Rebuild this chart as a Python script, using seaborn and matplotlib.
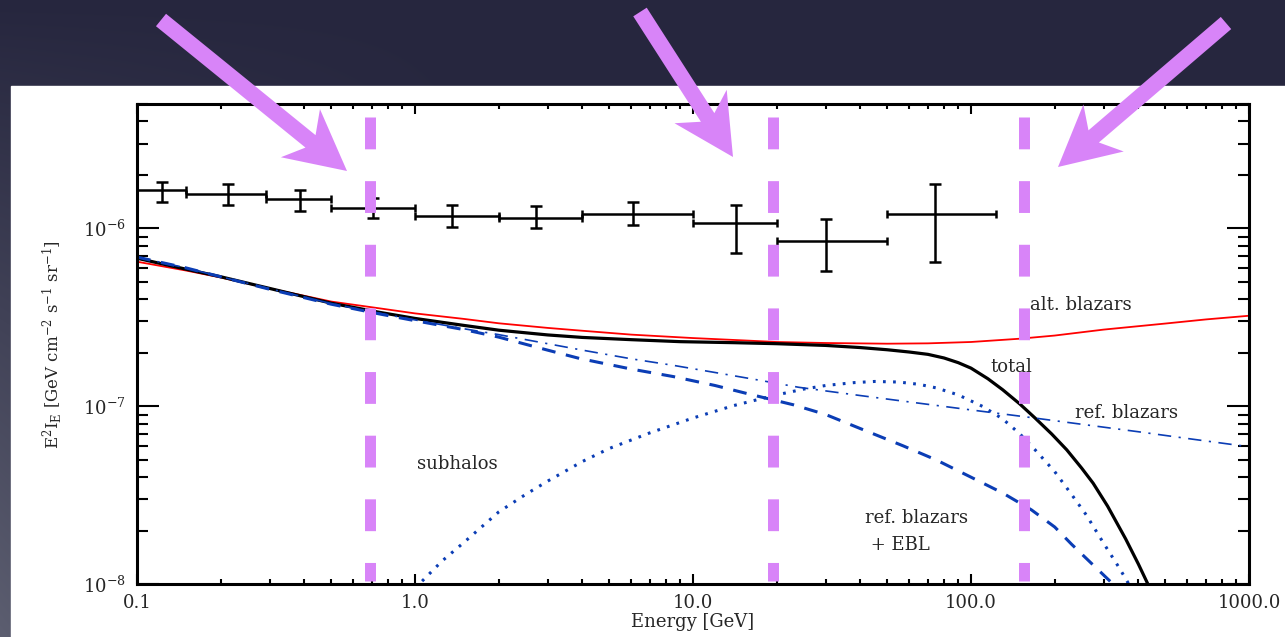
import numpy as np
import seaborn as sns
import matplotlib.pyplot as plt
from matplotlib.patches import Polygon, Rectangle
from matplotlib.ticker import NullFormatter, LogLocator

# measured EGB points (energy bins in GeV, E^2 I_E)
bin_lo = [0.1, 0.15, 0.29, 0.5, 1.0, 2.0, 4.0, 10.0, 20.0, 50.0]
bin_hi = [0.15, 0.29, 0.5, 1.0, 2.0, 4.0, 10.0, 20.0, 50.0, 123.0]
bin_mid = [0.123, 0.212, 0.386, 0.706, 1.36, 2.72, 6.07, 14.3, 30.0, 74.0]
flux = [1.64e-6, 1.57e-6, 1.46e-6, 1.31e-6, 1.18e-6, 1.15e-6, 1.21e-6, 1.07e-6, 8.5e-7, 1.2e-6]
flux_hi = [1.83e-6, 1.77e-6, 1.64e-6, 1.49e-6, 1.36e-6, 1.33e-6, 1.41e-6, 1.36e-6, 1.13e-6, 1.78e-6]
flux_lo = [1.41e-6, 1.36e-6, 1.26e-6, 1.14e-6, 1.02e-6, 1.0e-6, 1.04e-6, 7.24e-7, 5.78e-7, 6.49e-7]

# model curves
alt_e = [0.1, 0.15, 0.2, 0.3, 0.5, 0.75, 1.0, 1.5, 2.0, 3.0, 4.0, 6.0, 10.0, 15.0, 20.0,
         30.0, 50.0, 70.0, 100.0, 150.0, 200.0, 300.0, 500.0, 700.0, 1000.0]
alt_f = [6.5e-7, 5.8e-7, 5.3e-7, 4.6e-7, 3.88e-7, 3.55e-7, 3.33e-7, 3.1e-7, 2.93e-7, 2.76e-7,
         2.66e-7, 2.53e-7, 2.42e-7, 2.35e-7, 2.3e-7, 2.27e-7, 2.25e-7, 2.26e-7, 2.3e-7,
         2.4e-7, 2.5e-7, 2.7e-7, 2.92e-7, 3.08e-7, 3.23e-7]

tot_e = [0.1, 0.15, 0.2, 0.3, 0.5, 0.75, 1.0, 1.5, 2.0, 3.0, 4.0, 6.0, 9.0, 14.0, 20.0,
         30.0, 40.0, 50.0, 60.0, 70.0, 80.0, 90.0, 100.0, 115.0, 130.0, 150.0, 170.0, 195.0,
         221.0, 250.0, 275.0, 310.0, 360.0, 400.0, 440.0, 480.0]
tot_f = [6.8e-7, 5.9e-7, 5.35e-7, 4.6e-7, 3.8e-7, 3.37e-7, 3.12e-7, 2.85e-7, 2.68e-7, 2.52e-7,
         2.44e-7, 2.37e-7, 2.31e-7, 2.28e-7, 2.25e-7, 2.2e-7, 2.14e-7, 2.08e-7, 2.02e-7,
         1.96e-7, 1.87e-7, 1.76e-7, 1.64e-7, 1.43e-7, 1.24e-7, 1.03e-7, 8.6e-8, 7.0e-8,
         5.7e-8, 4.5e-8, 3.7e-8, 2.75e-8, 1.8e-8, 1.3e-8, 9.5e-9, 7.0e-9]

ebl_e = [0.1, 0.15, 0.2, 0.3, 0.5, 0.75, 1.0, 1.5, 2.0, 3.0, 3.9, 6.0, 8.5, 12.0, 16.0,
         23.0, 30.0, 40.0, 57.0, 75.0, 100.0, 130.0, 165.0, 200.0, 230.0, 270.0, 325.0, 380.0]
ebl_f = [6.9e-7, 6.0e-7, 5.35e-7, 4.55e-7, 3.75e-7, 3.3e-7, 3.03e-7, 2.7e-7, 2.45e-7, 2.07e-7,
         1.86e-7, 1.62e-7, 1.47e-7, 1.31e-7, 1.17e-7, 1.02e-7, 9.0e-8, 7.5e-8, 6.0e-8,
         5.0e-8, 4.0e-8, 3.26e-8, 2.62e-8, 2.1e-8, 1.68e-8, 1.32e-8, 1.0e-8, 7.5e-9]

ref_e = [0.1, 0.15, 0.2, 0.3, 0.5, 0.75, 1.0, 1.5, 2.0, 3.0, 4.0, 6.0, 8.5, 12.0, 17.0,
         24.0, 40.0, 57.0, 100.0, 160.0, 240.0, 400.0, 600.0, 1000.0]
ref_f = [6.9e-7, 6.0e-7, 5.35e-7, 4.58e-7, 3.78e-7, 3.33e-7, 3.06e-7, 2.73e-7, 2.53e-7,
         2.25e-7, 2.07e-7, 1.85e-7, 1.7e-7, 1.55e-7, 1.41e-7, 1.28e-7, 1.15e-7, 1.07e-7,
         9.55e-8, 8.7e-8, 8.0e-8, 7.2e-8, 6.6e-8, 5.93e-8]

sub_e = [1.0, 1.25, 1.5, 2.0, 2.5, 3.0, 4.0, 5.0, 7.0, 10.0, 14.0, 20.0, 25.0, 30.0, 38.0,
         45.0, 55.0, 65.0, 75.0, 90.0, 110.0, 130.0, 150.0, 170.0, 200.0, 230.0, 260.0,
         300.0, 340.0, 370.0, 420.0]
sub_f = [9.5e-9, 1.35e-8, 1.72e-8, 2.55e-8, 3.2e-8, 3.8e-8, 4.9e-8, 5.8e-8, 7.1e-8, 8.6e-8,
         1.01e-7, 1.16e-7, 1.25e-7, 1.31e-7, 1.36e-7, 1.38e-7, 1.37e-7, 1.33e-7, 1.27e-7,
         1.16e-7, 1.0e-7, 8.5e-8, 7.0e-8, 5.7e-8, 4.3e-8, 3.2e-8, 2.45e-8, 1.7e-8, 1.25e-8,
         1.0e-8, 7e-9]

# highlighted energies (purple dashed guides)
guide_e = [0.69, 19.4, 155.0]

xtick_vals = [0.1, 1.0, 10.0, 100.0, 1000.0]
xtick_labels = ['0.1', '1.0', '10.0', '100.0', '1000.0']
ytick_vals = [1e-8, 1e-7, 1e-6]
ytick_labels = [r'$10^{-8}$', r'$10^{-7}$', r'$10^{-6}$']

sns.set_style('ticks')
plt.rcParams['font.family'] = ['DejaVu Serif']
plt.rcParams['mathtext.fontset'] = 'dejavuserif'

purple = '#d884f8'
blue = '#0b3db5'

fig = plt.figure(figsize=(12.85, 6.37), dpi=100)

# slide background with white panel
bg = fig.add_axes([0, 0, 1, 1], zorder=0)
yy, xx = np.mgrid[0:637, 0:1285]
f = np.clip((yy / 637.0) * (1 - xx / 500.0), 0, 1)[..., None]
dark = np.array([38, 38, 62]) / 255.0
light = np.array([92, 94, 112]) / 255.0
bg.imshow(dark * (1 - f) + light * f, extent=[0, 1285, 637, 0], aspect='auto')
bg.add_patch(Rectangle((11, 86), 1285 - 11, 637 - 86, color='white'))
bg.set_xlim(0, 1285)
bg.set_ylim(637, 0)
bg.axis('off')

ax = fig.add_axes([0.10661, 0.0827, 0.86537, 0.7540], zorder=1)
ax.set_xscale('log')
ax.set_yscale('log')

sns.lineplot(x=alt_e, y=alt_f, ax=ax, color='#ff0000', linewidth=1.3)
sns.lineplot(x=tot_e, y=tot_f, ax=ax, color='black', linewidth=2.3)
sns.lineplot(x=ebl_e, y=ebl_f, ax=ax, color=blue, linewidth=2.2, linestyle=(0, (4.5, 3.5)))
sns.lineplot(x=ref_e, y=ref_f, ax=ax, color=blue, linewidth=1.2,
             linestyle=(0, (8, 4.5, 1.3, 4.5)))
sns.lineplot(x=sub_e, y=sub_f, ax=ax, color=blue, linewidth=2.2, linestyle=(0, (0.9, 2.4)))

mid = np.array(bin_mid)
fl = np.array(flux)
ax.errorbar(mid, fl, xerr=[mid - np.array(bin_lo), np.array(bin_hi) - mid], fmt='none',
            ecolor='black', elinewidth=1.8, capsize=2.9, capthick=1.8, zorder=4)
ax.errorbar(mid, fl, yerr=[fl - np.array(flux_lo), np.array(flux_hi) - fl], fmt='none',
            ecolor='black', elinewidth=1.8, capsize=4.3, capthick=1.8, zorder=4)

ax.vlines(guide_e, 4.22e-6, 1.04e-8, colors=purple, linewidth=7.9,
          linestyles=[(0, (2.9, 2.9))], zorder=6)

ax.text(163, 3.7e-7, 'alt. blazars', va='center', fontsize=13)
ax.text(117, 1.66e-7, 'total', va='center', fontsize=13)
ax.text(237, 9.16e-8, 'ref. blazars', va='center', fontsize=13)
ax.text(1.02, 4.74e-8, 'subhalos', va='center', fontsize=13)
ax.text(41.6, 2.36e-8, 'ref. blazars', va='center', fontsize=13)
ax.text(41.6, 1.66e-8, ' + EBL', va='center', fontsize=13)

ax.set_xlim(0.1, 1000)
ax.set_ylim(1e-8, 5e-6)
ax.set_xticks(xtick_vals)
ax.set_xticklabels(xtick_labels, fontsize=13)
ax.set_yticks(ytick_vals)
ax.set_yticklabels(ytick_labels, fontsize=13)
ax.xaxis.set_minor_locator(LogLocator(base=10, subs=np.arange(2, 10)))
ax.yaxis.set_minor_locator(LogLocator(base=10, subs=np.arange(2, 10)))
ax.xaxis.set_minor_formatter(NullFormatter())
ax.yaxis.set_minor_formatter(NullFormatter())
ax.tick_params(which='both', direction='in', top=True, right=True, width=1.5, color='black')
ax.tick_params(axis='y', which='major', length=15.8, pad=8)
ax.tick_params(axis='y', which='minor', length=8)
ax.tick_params(axis='x', which='major', length=7, pad=7)
ax.tick_params(axis='x', which='minor', length=3.5)
for sp in ax.spines.values():
    sp.set_linewidth(2.2)
    sp.set_color('black')
ax.set_xlabel('Energy [GeV]', fontsize=13, labelpad=1)
ax.set_ylabel(r'E$^2$I$_\mathrm{E}$ [GeV cm$^{-2}$ s$^{-1}$ sr$^{-1}$]', fontsize=12, labelpad=14)
ax.grid(False)

# big purple arrows on top of the slide
ov = fig.add_axes([0, 0, 1, 1], zorder=3)
ov.set_xlim(0, 1285)
ov.set_ylim(637, 0)
ov.axis('off')
ov.patch.set_alpha(0)

arrows = [((161, 20), (347, 171)), ((640, 12), (733, 157)), ((1226, 23), (1058, 167))]
for tail, tip in arrows:
    t = np.array(tail, float)
    p = np.array(tip, float)
    u = (p - t) / np.hypot(*(p - t))
    n = np.array([-u[1], u[0]])
    w, L, H, notch = 8, 60, 31, 47
    pts = [t + w * n, p - notch * u + w * n, p - L * u + H * n, p,
           p - L * u - H * n, p - notch * u - w * n, t - w * n]
    ov.add_patch(Polygon(pts, closed=True, color=purple, linewidth=0))

fig.savefig('out.png', dpi=100)
